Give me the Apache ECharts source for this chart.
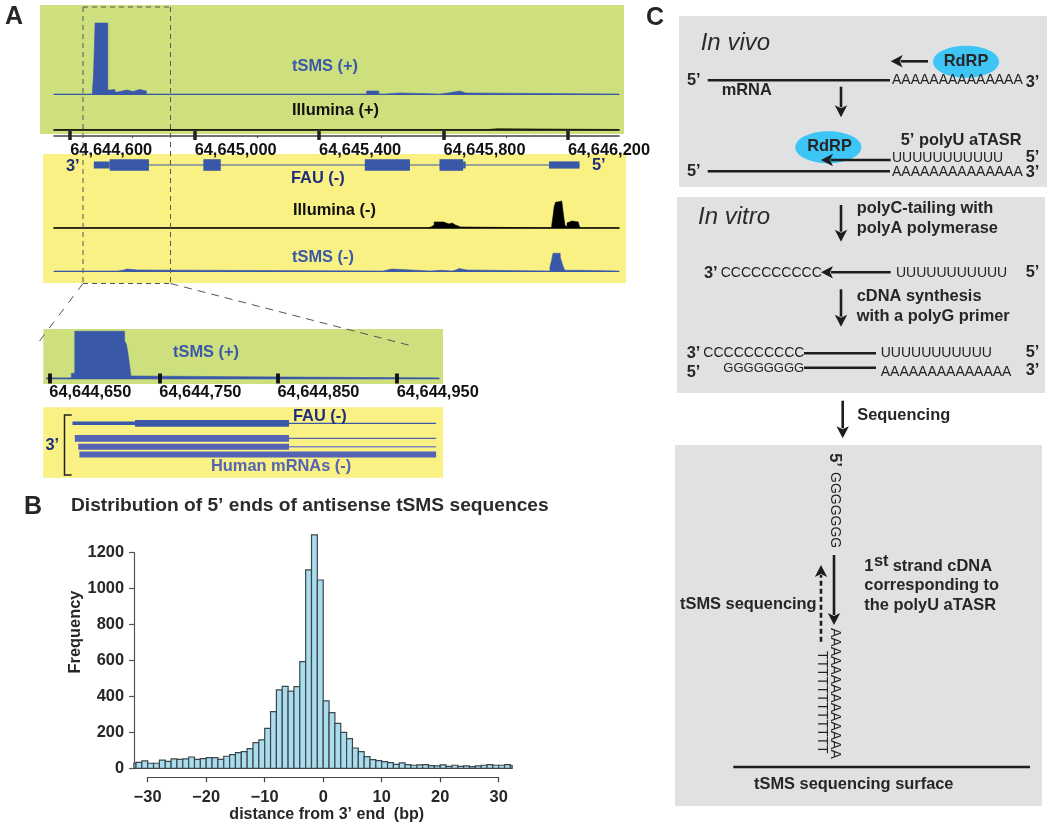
<!DOCTYPE html>
<html><head><meta charset="utf-8">
<script src="https://cdn.jsdelivr.net/npm/echarts@6/dist/echarts.min.js"></script>
<style>html,body{margin:0;padding:0;background:#fff}#c{width:1050px;height:837px}</style></head>
<body><div id="c"></div>
<script>
// ---------- Panel A data ----------
const genomeMajorTicks = [64644600, 64645000, 64645400, 64645800, 64646200];
const genomeMinorTicks = [64644800, 64645200, 64645600, 64646000];
const tsmsPlus = [[64644548,0],[64644671,1.5],[64644675,19],[64644680,71],[64644721,4],[64644728,4.5],[64644744,2],[64644753,4],[64644782,2.5],[64644802,4.5],[64644824,3],[64644845,0],[64645553,3],[64645592,0],[64645612,1],[64645657,0],[64645789,1],[64645814,3],[64645853,1],[64645871,0],[64646364,0]];
const illuminaPlus = [[64644548,0],[64645943,0.7],[64645972,0],[64646364,0]];
const illuminaMinus = [[64644548,0],[64645750,1],[64645760,3],[64645770,6],[64645800,5],[64645808,4],[64645818,5],[64645828,3],[64645838,1],[64645855,0],[64646148,3],[64646152,12],[64646156,22],[64646161,26],[64646168,27],[64646180,25],[64646185,14],[64646190,3],[64646194,1],[64646197,5],[64646200,7],[64646213,6],[64646233,5],[64646238,0],[64646364,0]];
const tsmsMinus = [[64644548,0],[64644753,1],[64644773,2],[64644782,1],[64644818,0],[64645605,2],[64645634,0],[64645756,0.7],[64645794,0],[64645827,1],[64645840,2.5],[64645850,1],[64645875,0],[64646142,4],[64646147,10],[64646152,17.7],[64646175,14],[64646180,9],[64646185,4],[64646190,0.7],[64646232,0],[64646364,0]];
// gene model: [start, end, half height]
const fauExons = [[64644676,64644727,3.5],[64644727,64644853,5.8],[64645028,64645084,5.8],[64645547,64645692,5.8],[64645787,64645863,5.8],[64645863,64645871,3.5],[64646139,64646237,3.6]];
const fauSpan = [64644676, 64646237];
// zoomed region
const zoomTickValues = [64644650, 64644745, 64644847, 64644950];
const zoomTickLabels = ['64,644,650','64,644,750','64,644,850','64,644,950'];
const zoomTsms = [[64644647,0],[64644669,4.7],[64644672,46.7],[64644715,37],[64644716.5,34],[64644718,24],[64644719.5,11],[64644720.5,2],[64644721.5,0],[64644986,0]];
// transcripts: [row, start, thickEnd, lineEnd]
const zoomFauThin = [64644670, 64644724];
const zoomTranscripts = [[0,64644724,64644857,64644984],[1,64644672,64644857,64644984],[2,64644675,64644857,64644984],[3,64644676,64644984,64644984]];
// ---------- Panel B data ----------
const histEdgeMin = -32.36, histEdgeMax = 32.3;
const histFirstBin = -33;
const histValues = [28,33,41,28,28,46,39,52,50,52,63,50,54,59,59,50,67,76,87,93,109,143,158,222,315,436,456,429,455,594,1104,1299,1048,
 375,310,250,200,165,113,93,65,48,43,37,32,22,30,20,17,19,20,15,13,19,11,17,11,13,9,13,17,20,17,17,20,15];
const xTicks = {min:-30,max:30,interval:10};

const FONT = '"Liberation Sans", Arial, sans-serif';
const BLUE = '#3a58a8', NAVY = '#1f2f7a', MRNA = '#5563b5', DARK = '#262626', GREEN='#cde07d', YELLOW='#f9f183', GRAY='#e0e1e3';
const gMin = 64644548, gMax = 64646364;
const L = 54, W = 565, BOLD = 16.4;

const grids = [], xAxes = [], yAxes = [], series = [], extraXAxes = [];
function addGrid(left, width, top, height, xMin, xMax, yMin, yMax, axisColor, axisW){
  const i = grids.length;
  grids.push({left, width, top, height, containLabel:false});
  xAxes.push({gridIndex:i, type:'value', min:xMin, max:xMax, axisLabel:{show:false}, axisTick:{show:false}, splitLine:{show:false},
    axisLine:{show:!!axisColor, onZero:false, lineStyle:{color:axisColor||'#000', width:axisW||1}}});
  yAxes.push({gridIndex:i, type:'value', min:yMin, max:yMax, show:false, splitLine:{show:false}});
  return i;
}
// each reading holds until the next one: expand to explicit stairs
function stairs(d){const o=[];d.forEach((p,k)=>{if(k)o.push([p[0],d[k-1][1]]);o.push(p);});return o;}
function track(i, data, color){
  series.push({type:'line', xAxisIndex:i, yAxisIndex:i, data:stairs(data), showSymbol:false, silent:true,
    lineStyle:{width:0.6,color}, areaStyle:{color,opacity:1}, z:3, clip:true});
}
// Tracks
track(addGrid(L,W,19,75,gMin,gMax,0,75,BLUE,1.2), tsmsPlus, BLUE);
track(addGrid(L,W,100,29.5,gMin,gMax,0,29.5,'#000',1.6), illuminaPlus, '#000');
track(addGrid(L,W,198,30,gMin,gMax,0,30,'#000',1.6), illuminaMinus, '#000');
track(addGrid(L,W,246,25,gMin,gMax,0,25,BLUE,1.2), tsmsMinus, BLUE);

// Ruler
{
  const i = addGrid(L,W,130,1,gMin,gMax,0,1,null);
  const fmt = v => String(v).replace(/\B(?=(\d{3})+$)/g,',');
  xAxes[i].axisTick = {show:true, length:9, customValues:genomeMajorTicks, lineStyle:{color:'#222',width:3.5}};
  xAxes[i].axisLabel = {show:true, customValues:genomeMajorTicks, margin:11, align:'left', hideOverlap:false, showMinLabel:true, showMaxLabel:true, formatter:fmt,
     color:'#111', fontFamily:FONT, fontWeight:'bold', fontSize:BOLD};
  xAxes[i].z = 4;
  extraXAxes.push({gridIndex:i, type:'value', min:gMin, max:gMax, offset:5, position:'bottom', axisLabel:{show:false}, splitLine:{show:false},
    axisLine:{show:true,onZero:false,lineStyle:{color:'#444',width:1.6}},
    axisTick:{show:true,length:2,customValues:genomeMinorTicks,lineStyle:{color:'#444',width:1}}});
}
// Gene model
{
  const i = addGrid(L,W,153,24,gMin,gMax,-12,12,null);
  series.push({type:'custom', xAxisIndex:i, yAxisIndex:i, silent:true, z:3, data:fauExons.map(e=>e.slice()),
    encode:{x:[0,1],y:2},
    renderItem(p,api){
      const a = api.coord([api.value(0), api.value(2)]), b = api.coord([api.value(1), -api.value(2)]);
      return {type:'rect', shape:{x:a[0],y:a[1],width:b[0]-a[0],height:b[1]-a[1]}, style:{fill:BLUE}};
    }});
  series.push({type:'line', xAxisIndex:i, yAxisIndex:i, silent:true, z:2, showSymbol:false, data:[[fauSpan[0],0],[fauSpan[1],0]], lineStyle:{color:BLUE,width:1.2}});
}
// Zoomed tSMS
const zMin = 64644647.75, zMax = 64644986.5;
{
  const i = addGrid(46.7,392.3,330,48,zMin,zMax,0,48,BLUE,1.4);
  track(i, zoomTsms, BLUE);
  const j = addGrid(46.7,392.3,372.5,1,zMin,zMax,0,1,null);
  xAxes[j].axisTick = {show:true,length:10,customValues:zoomTickValues,lineStyle:{color:'#111',width:3.8}};
  xAxes[j].axisLabel = {show:true,customValues:zoomTickValues,margin:11,align:'left',hideOverlap:false,
    formatter:v=>zoomTickLabels[zoomTickValues.indexOf(v)],color:'#111',fontFamily:FONT,fontWeight:'bold',fontSize:BOLD};
  xAxes[j].z = 4;
}
// Zoomed transcripts
{
  const i = addGrid(46.7,392.3,417.3,48,zMin,zMax,-0.5,3.5,null);
  yAxes[i].inverse = true;
  const rowY = [0,1.25,1.95,2.6];
  const thick = [6.7,6.7,6,6];
  const lineW = [1.2,1.2,1.6,0];
  const cols = [BLUE,MRNA,MRNA,MRNA];
  series.push({type:'custom', xAxisIndex:i, yAxisIndex:i, silent:true, z:3, data:zoomTranscripts.map(r=>r.slice()),
    encode:{x:[1,2,3],y:0},
    renderItem(p,api){
      const r = api.value(0), y = rowY[r];
      const a = api.coord([api.value(1), y]), b = api.coord([api.value(2), y]), c = api.coord([api.value(3), y]);
      const ch = [{type:'rect',shape:{x:a[0],y:a[1]-thick[r]/2,width:b[0]-a[0],height:thick[r]},style:{fill:cols[r]}}];
      if(lineW[r]) ch.push({type:'line',shape:{x1:b[0],y1:b[1],x2:c[0],y2:c[1]},style:{stroke:r==2?'#7f87c0':cols[r],lineWidth:lineW[r]}});
      if(r==0){const t=api.coord([zoomFauThin[0],y]),u=api.coord([zoomFauThin[1],y]);
        ch.push({type:'rect',shape:{x:t[0],y:t[1]-1.7,width:u[0]-t[0],height:3.4},style:{fill:BLUE}});}
      return {type:'group',children:ch};
    }});
}
// Histogram
{
  const i = grids.length;
  grids.push({left:147.7,width:351,top:552.7,height:215.6});
  xAxes.push({gridIndex:i,type:'value',min:xTicks.min,max:xTicks.max,interval:xTicks.interval,offset:9,position:'bottom',
    splitLine:{show:false},axisLine:{onZero:false,lineStyle:{color:'#444',width:1.2}},axisTick:{length:5,lineStyle:{color:'#444',width:1.2}},
    axisLabel:{margin:12,color:DARK,fontFamily:FONT,fontWeight:'bold',fontSize:BOLD,showMinLabel:true,showMaxLabel:true,formatter:v=>String(v).replace('-','\u2212')},
    name:'distance from 3\u2019 end  (bp)',nameLocation:'middle',nameGap:29,nameTextStyle:{color:DARK,fontFamily:FONT,fontWeight:'bold',fontSize:16,padding:[0,0,0,7]}});
  yAxes.push({gridIndex:i,type:'value',min:0,max:1200,interval:200,offset:13.7,position:'left',splitLine:{show:false},
    axisLine:{show:true,onZero:false,lineStyle:{color:'#555',width:1.2}},axisTick:{show:true,length:5,lineStyle:{color:'#555',width:1.2}},
    axisLabel:{margin:10,color:DARK,fontFamily:FONT,fontWeight:'bold',fontSize:BOLD,formatter:v=>String(v)},
    name:'Frequency',nameLocation:'middle',nameGap:50,nameRotate:90,nameTextStyle:{color:DARK,fontFamily:FONT,fontWeight:'bold',fontSize:BOLD,padding:[0,0,0,57]}});
  const data = histValues.map((v,k)=>[Math.max(histFirstBin+k,histEdgeMin),Math.min(histFirstBin+k+1,histEdgeMax),v]);
  series.push({type:'custom',xAxisIndex:i,yAxisIndex:i,silent:true,z:3,clip:false,data,encode:{x:[0,1],y:2},
    renderItem(p,api){
      const a=api.coord([api.value(0),api.value(2)]),b=api.coord([api.value(1),0]);
      return {type:'rect',shape:{x:a[0],y:a[1],width:b[0]-a[0],height:b[1]-a[1]},style:{fill:'#a9dcec',stroke:'#3c464c',lineWidth:1.2}};
    }});
}

// ---------- annotations ----------
const g = [];
const rect=(x,y,w,h,fill)=>g.push({type:'rect',z:-5,shape:{x,y,width:w,height:h},style:{fill}});
function T(text,x,y,o={}){
  g.push({type:'text',z:10,x,y,rotation:o.rot||0,silent:true,style:{text,fill:o.c||DARK,
    font:`${o.i?'italic ':''}${o.w||'bold'} ${o.s||BOLD}px ${FONT}`,align:o.a||'left',verticalAlign:'middle'}});
}
function seg(x1,y1,x2,y2,c,w,dash){g.push({type:'line',z:9,silent:true,shape:{x1,y1,x2,y2},style:{stroke:c,lineWidth:w,lineDash:dash||null}});}
function arrow(x1,y1,x2,y2,dash,w=2.6,hl=12,hw=6.2){
  const d=Math.hypot(x2-x1,y2-y1),ux=(x2-x1)/d,uy=(y2-y1)/d;
  const bx=x2-ux*hl,by=y2-uy*hl;
  seg(x1,y1,bx+ux*2,by+uy*2,'#1d1d1d',w,dash);
  g.push({type:'polygon',z:9,silent:true,shape:{points:[[x2,y2],[bx-uy*hw,by+ux*hw],[bx+ux*3,by+uy*3],[bx+uy*hw,by-ux*hw]]},style:{fill:'#1d1d1d'}});
}
// Panel backgrounds
rect(40,5,584,129,GREEN); rect(43,154,583,129,YELLOW);
rect(43.3,329,399.7,55,GREEN); rect(43.3,407.3,399.7,70.4,YELLOW);
rect(679,16,368,171,GRAY); rect(677,197,368,196,GRAY); rect(675,445,367,361,GRAY);
// Panel letters
T('A',5,17,{s:25}); T('B',24,507,{s:25}); T('C',646,18,{s:25});
// Panel A labels
T('tSMS (+)',292,66,{c:BLUE}); T('Illumina (+)',292,110,{c:'#111'});
T('3\u2019',66,166,{c:NAVY}); T('5\u2019',592,165,{c:NAVY});
T('FAU (-)',291,178,{c:NAVY}); T('Illumina (-)',293,210,{c:'#111'}); T('tSMS (-)',292,257,{c:BLUE});
// Dashed zoom box
const dash=[5,4];
seg(83,7,170.5,7,'#555',1,dash);seg(83,7,83,283.5,'#555',1,dash);seg(170.5,7,170.5,283.5,'#555',1,dash);seg(83,283.5,170.5,283.5,'#555',1,dash);
seg(83,283.5,38,343,'#555',1,[8,8]);seg(170.5,283.5,412,346,'#555',1,[8,6]);
T('tSMS (+)',173,352,{c:BLUE}); T('FAU (-)',293,416,{c:NAVY}); T('Human mRNAs (-)',211,466,{c:MRNA});
T('3\u2019',45.5,445,{c:NAVY});
g.push({type:'polyline',z:9,silent:true,shape:{points:[[71.7,415],[64.5,415],[64.5,475],[71.7,475]]},style:{stroke:'#222',lineWidth:1.5,fill:null}});
// Panel B title
T('Distribution of 5\u2019 ends of antisense tSMS sequences',71,506,{s:19.2,c:'#2b2b2b'});
// Panel C - in vivo
const As='AAAAAAAAAAAAAA',Us='UUUUUUUUUUU',Cs='CCCCCCCCCC',Gs='GGGGGGGG';
const reg={w:'normal',s:14,c:'#222'};
T('In vivo',700.7,43,{i:1,w:'normal',s:24,c:'#2b2b2b'});
g.push({type:'ellipse',z:8,shape:{cx:966,cy:61.7,rx:33,ry:16},style:{fill:'#3cc5f5'}});
T('RdRP',966,61,{a:'center'});
arrow(928,61.3,890.7,61.3);
T('5\u2019',687,80); seg(707.7,80.3,890,80.3,'#1d1d1d',2.4); T(As,892,80.5,reg); T('3\u2019',1025.7,82);
T('mRNA',721.7,90.7); arrow(841,86.7,841,117.3);
g.push({type:'ellipse',z:8,shape:{cx:828.3,cy:147.3,rx:33,ry:16},style:{fill:'#3cc5f5'}});
T('RdRP',829.5,146.5,{a:'center'});
T('5\u2019 polyU aTASR',900.7,140); arrow(890.7,160,821,160);
T(Us,892,158.5,reg); T('5\u2019',1025.7,157);
T('5\u2019',687,171); seg(707.7,171.3,890,171.3,'#1d1d1d',2.4); T(As,892,172.5,reg); T('3\u2019',1025.7,172);
// In vitro
T('In vitro',698,217.7,{i:1,w:'normal',s:24,c:'#2b2b2b'});
arrow(841,205,841,241.7);
T('polyC-tailing with',856.7,208.3); T('polyA polymerase',856.7,228.3);
T('3\u2019',704,273); T(Cs,720.7,273,reg); arrow(890.7,272.3,821,272.3); T(Us,896,272.7,reg); T('5\u2019',1025.7,272.7);
arrow(841,289.3,841,326.7);
T('cDNA synthesis',856.7,296.7); T('with a polyG primer',856.7,316.7);
T('3\u2019',686.7,353.3); T(Cs,703.3,353.5,reg); seg(804,353.3,876,353.3,'#1d1d1d',2.4); T(Us,880.7,353,reg); T('5\u2019',1025.7,352.3);
T('5\u2019',686.7,372.3); T(Gs,723.3,368.5,{w:'normal',s:13,c:'#222'}); seg(804,367.7,876,367.7,'#1d1d1d',2.4); T(As,880.7,371.7,reg); T('3\u2019',1025.7,370);
arrow(842.7,400.7,842.7,438.3);
T('Sequencing',857.3,415);
// Surface panel
T('5\u2019',835,460,{rot:-Math.PI/2,a:'center'});
T('GGGGGGG',835,472,{rot:-Math.PI/2,...reg});
arrow(834,555,834,625);
arrow(821,641.7,821,565,[5,3]);
T('tSMS sequencing',680,604);
T('1',864.3,566); T('st',874,561.7); T('strand cDNA',892.7,566);
T('corresponding to',864.3,585.7); T('the polyU aTASR',864.3,605.7);
T(As,835,628,{rot:-Math.PI/2,...reg});
T('TTTTTTTTTTTT',822,651,{rot:-Math.PI/2,...reg});
seg(733.3,767,1030,767,'#1d1d1d',2.4);
T('tSMS sequencing surface',754,784);

const chart = echarts.init(document.getElementById('c'),null,{renderer:'canvas'});
chart.setOption({animation:false,backgroundColor:'#fff',grid:grids,xAxis:xAxes.concat(extraXAxes),yAxis:yAxes,series,graphic:{elements:g}});
</script></body></html>
